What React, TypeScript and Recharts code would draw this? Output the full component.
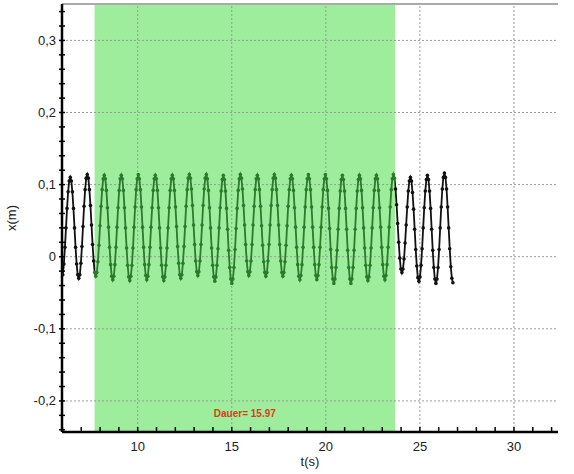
import React from 'react';
import { LineChart, Line, XAxis, YAxis, ReferenceArea, ReferenceLine } from 'recharts';

// measured displacement, sampled every 0.0565 s starting at 6.02 s
const startTime = 6.02;
const sampleStep = 0.0565;

// rising edge before the first peak
const leadIn = [-0.025, -0.010, 0.013, 0.040, 0.067, 0.090, 0.105];

// one row per oscillation, peak to just before the next peak
const cycles = [
  [0.110, 0.105, 0.090, 0.067, 0.040, 0.013, -0.010, -0.025, -0.030, -0.025, -0.009, 0.014, 0.042, 0.070, 0.093, 0.109],
  [0.114, 0.109, 0.093, 0.071, 0.044, 0.017, -0.006, -0.022, -0.027, -0.022, -0.007, 0.016, 0.043, 0.070, 0.093, 0.108],
  [0.113, 0.108, 0.092, 0.068, 0.041, 0.013, -0.011, -0.027, -0.032, -0.027, -0.011, 0.013, 0.041, 0.068, 0.092, 0.108],
  [0.113, 0.108, 0.092, 0.068, 0.040, 0.012, -0.012, -0.028, -0.033, -0.027, -0.012, 0.012, 0.041, 0.069, 0.093, 0.108],
  [0.114, 0.108, 0.093, 0.069, 0.041, 0.013, -0.011, -0.026, -0.032, -0.027, -0.011, 0.013, 0.041, 0.068, 0.092, 0.108],
  [0.113, 0.108, 0.092, 0.068, 0.040, 0.012, -0.012, -0.028, -0.033, -0.028, -0.012, 0.012, 0.040, 0.068, 0.092, 0.108],
  [0.113, 0.108, 0.092, 0.069, 0.042, 0.014, -0.009, -0.025, -0.030, -0.025, -0.009, 0.014, 0.042, 0.070, 0.093, 0.109],
  [0.114, 0.109, 0.094, 0.071, 0.044, 0.017, -0.006, -0.021, -0.026, -0.021, -0.006, 0.017, 0.044, 0.071, 0.094, 0.109],
  [0.114, 0.108, 0.092, 0.068, 0.040, 0.012, -0.012, -0.028, -0.034, -0.028, -0.012, 0.011, 0.040, 0.068, 0.091, 0.107],
  [0.113, 0.107, 0.091, 0.067, 0.038, 0.009, -0.015, -0.031, -0.037, -0.031, -0.015, 0.010, 0.039, 0.067, 0.092, 0.108],
  [0.114, 0.109, 0.094, 0.071, 0.044, 0.017, -0.006, -0.021, -0.026, -0.021, -0.006, 0.017, 0.044, 0.070, 0.093, 0.108],
  [0.113, 0.108, 0.093, 0.070, 0.043, 0.016, -0.007, -0.022, -0.027, -0.022, -0.006, 0.017, 0.044, 0.071, 0.093, 0.109],
  [0.114, 0.109, 0.093, 0.071, 0.044, 0.017, -0.006, -0.022, -0.027, -0.022, -0.007, 0.016, 0.043, 0.070, 0.093, 0.108],
  [0.113, 0.108, 0.092, 0.068, 0.041, 0.013, -0.011, -0.027, -0.032, -0.026, -0.011, 0.013, 0.041, 0.069, 0.093, 0.108],
  [0.114, 0.108, 0.093, 0.069, 0.041, 0.013, -0.011, -0.026, -0.032, -0.026, -0.011, 0.013, 0.041, 0.069, 0.093, 0.108],
  [0.114, 0.108, 0.092, 0.067, 0.039, 0.010, -0.015, -0.031, -0.037, -0.031, -0.015, 0.009, 0.038, 0.067, 0.091, 0.107],
  [0.113, 0.107, 0.091, 0.067, 0.038, 0.009, -0.015, -0.031, -0.037, -0.031, -0.015, 0.009, 0.038, 0.067, 0.091, 0.107],
  [0.113, 0.108, 0.092, 0.068, 0.040, 0.012, -0.012, -0.028, -0.033, -0.028, -0.012, 0.012, 0.040, 0.068, 0.092, 0.108],
  [0.113, 0.108, 0.092, 0.068, 0.041, 0.013, -0.011, -0.027, -0.032, -0.026, -0.011, 0.013, 0.041, 0.069, 0.093, 0.108],
  [0.114, 0.109, 0.094, 0.072, 0.046, 0.020, -0.002, -0.017, -0.022, -0.017, -0.003, 0.019, 0.044, 0.069, 0.091, 0.105],
  [0.110, 0.105, 0.089, 0.066, 0.038, 0.010, -0.013, -0.029, -0.034, -0.028, -0.012, 0.011, 0.040, 0.068, 0.091, 0.107],
  [0.113, 0.107, 0.091, 0.067, 0.038, 0.009, -0.015, -0.031, -0.037, -0.031, -0.015, 0.010, 0.040, 0.069, 0.094, 0.110],
];

// last peak down to where the recording stops
const tail = [0.116, 0.110, 0.094, 0.069, 0.040, 0.011, -0.014, -0.030, -0.036];

const displacement = [...leadIn, ...cycles.flat(), ...tail];

const data = displacement.map((x, i) => ({
  t: +(startTime + i * sampleStep).toFixed(4),
  x,
}));

// shaded measurement window
const windowStart = 7.71;
const windowEnd = 23.68;
const windowLabel = 'Dauer= 15.97';

const xDomain = [5.977, 32.34];
const yDomain = [-0.2431, 0.3505];

const xTicks = [6, 7, 8, 9, 10, 11, 12, 13, 14, 15, 16, 17, 18, 19, 20, 21, 22, 23, 24, 25, 26, 27, 28, 29, 30, 31, 32];
const xMajor = [10, 15, 20, 25, 30];
const yTicks = [
  -0.24, -0.22, -0.2, -0.18, -0.16, -0.14, -0.12, -0.1, -0.08, -0.06, -0.04, -0.02,
  0, 0.02, 0.04, 0.06, 0.08, 0.1, 0.12, 0.14, 0.16, 0.18, 0.2, 0.22, 0.24, 0.26, 0.28, 0.3, 0.32, 0.34,
];
const yMajor = [-0.2, -0.1, 0, 0.1, 0.2, 0.3];

const FONT = '"Liberation Sans", Arial, sans-serif';
const INK = '#111';
const INK_IN_WINDOW = '#2c7a2c';

const isMajorY = (v: number) => yMajor.some((m) => Math.abs(m - v) < 1e-9);
const fmtY = (v: number) => (v === 0 ? '0' : v.toFixed(1).replace('.', ','));
const inWindow = (t: number) => t >= windowStart && t <= windowEnd;

// stroke gradient switches the curve to dark green inside the shaded window
const firstT = data[0].t;
const lastT = data[data.length - 1].t;
const gStart = (windowStart - firstT) / (lastT - firstT);
const gEnd = (windowEnd - firstT) / (lastT - firstT);

const XTick = (props: any) => {
  const { x, y, payload } = props;
  const major = xMajor.includes(payload.value);
  return (
    <g>
      <line x1={x} x2={x} y1={y - 5} y2={y} stroke="#000" strokeWidth={1.5} />
      {major && (
        <text x={x} y={y + 19} textAnchor="middle" fontSize={13} fontFamily={FONT} fill="#222">
          {payload.value}
        </text>
      )}
    </g>
  );
};

const YTick = (props: any) => {
  const { x, y, payload } = props;
  const major = isMajorY(payload.value);
  return (
    <g>
      <line x1={x - 3} x2={x + 3} y1={y} y2={y} stroke="#000" strokeWidth={1.5} />
      {major && (
        <text x={x - 6} y={y + 4.5} textAnchor="end" fontSize={13} fontFamily={FONT} fill="#222">
          {fmtY(payload.value)}
        </text>
      )}
    </g>
  );
};

const YLabel = (props: any) => {
  const { x, y, height } = props.viewBox;
  const cx = x + 11;
  const cy = y + height / 2;
  return (
    <text
      x={cx}
      y={cy}
      transform={`rotate(-90 ${cx} ${cy})`}
      textAnchor="middle"
      dominantBaseline="central"
      fontSize={13}
      fontFamily={FONT}
      fill="#222"
    >
      x(m)
    </text>
  );
};

const SampleDot = (props: any) => {
  const { cx, cy, payload, index } = props;
  return (
    <circle key={`d-${index}`} cx={cx} cy={cy} r={1.8} fill={inWindow(payload.t) ? INK_IN_WINDOW : INK} />
  );
};

export default function App() {
  return (
    <div style={{ position: 'absolute', left: 0, top: 0, background: '#fff' }}>
      <LineChart width={574} height={474} data={data} margin={{ top: 4, right: 16, bottom: 0, left: 0 }}>
        <defs>
          <linearGradient id="curveStroke" x1="0" y1="0" x2="1" y2="0">
            <stop offset={0} stopColor={INK} />
            <stop offset={gStart} stopColor={INK} />
            <stop offset={gStart} stopColor={INK_IN_WINDOW} />
            <stop offset={gEnd} stopColor={INK_IN_WINDOW} />
            <stop offset={gEnd} stopColor={INK} />
            <stop offset={1} stopColor={INK} />
          </linearGradient>
        </defs>
        <XAxis
          type="number"
          dataKey="t"
          domain={xDomain}
          allowDataOverflow
          ticks={xTicks}
          interval={0}
          tickSize={0}
          tickMargin={0}
          tick={XTick}
          tickLine={false}
          axisLine={{ stroke: '#000', strokeWidth: 2.5 }}
          height={42}
          label={{ value: 't(s)', position: 'insideBottom', offset: 8, fontSize: 13, fontFamily: FONT, fill: '#222' }}
        />
        <YAxis
          type="number"
          domain={yDomain}
          allowDataOverflow
          ticks={yTicks}
          interval={0}
          tickSize={0}
          tickMargin={0}
          tick={YTick}
          tickLine={false}
          axisLine={{ stroke: '#000', strokeWidth: 2.5 }}
          width={62}
          label={<YLabel />}
        />
        <YAxis
          yAxisId="right"
          orientation="right"
          type="number"
          domain={yDomain}
          width={0}
          tick={false}
          tickLine={false}
          axisLine={{ stroke: '#aaa', strokeWidth: 2 }}
        />
        <ReferenceArea
          x1={windowStart}
          x2={windowEnd}
          fill="#3cdc3c"
          fillOpacity={0.5}
          stroke="none"
          label={{
            value: windowLabel,
            position: 'insideBottom',
            offset: 15,
            fontSize: 10,
            fontWeight: 'bold',
            fontFamily: FONT,
            fill: '#dd3b1a',
          }}
        />
        {xMajor.map((v) => (
          <ReferenceLine key={`gx-${v}`} x={v} stroke="#999" strokeDasharray="2 2" strokeWidth={1} />
        ))}
        {yMajor.map((v) => (
          <ReferenceLine key={`gy-${v}`} y={v} stroke="#999" strokeDasharray="2 2" strokeWidth={1} />
        ))}
        <ReferenceLine y={yDomain[1]} stroke="#aaa" strokeWidth={2} />
        <Line
          type="linear"
          dataKey="x"
          stroke="url(#curveStroke)"
          strokeWidth={1.8}
          dot={SampleDot}
          activeDot={false}
          isAnimationActive={false}
        />
      </LineChart>
    </div>
  );
}
